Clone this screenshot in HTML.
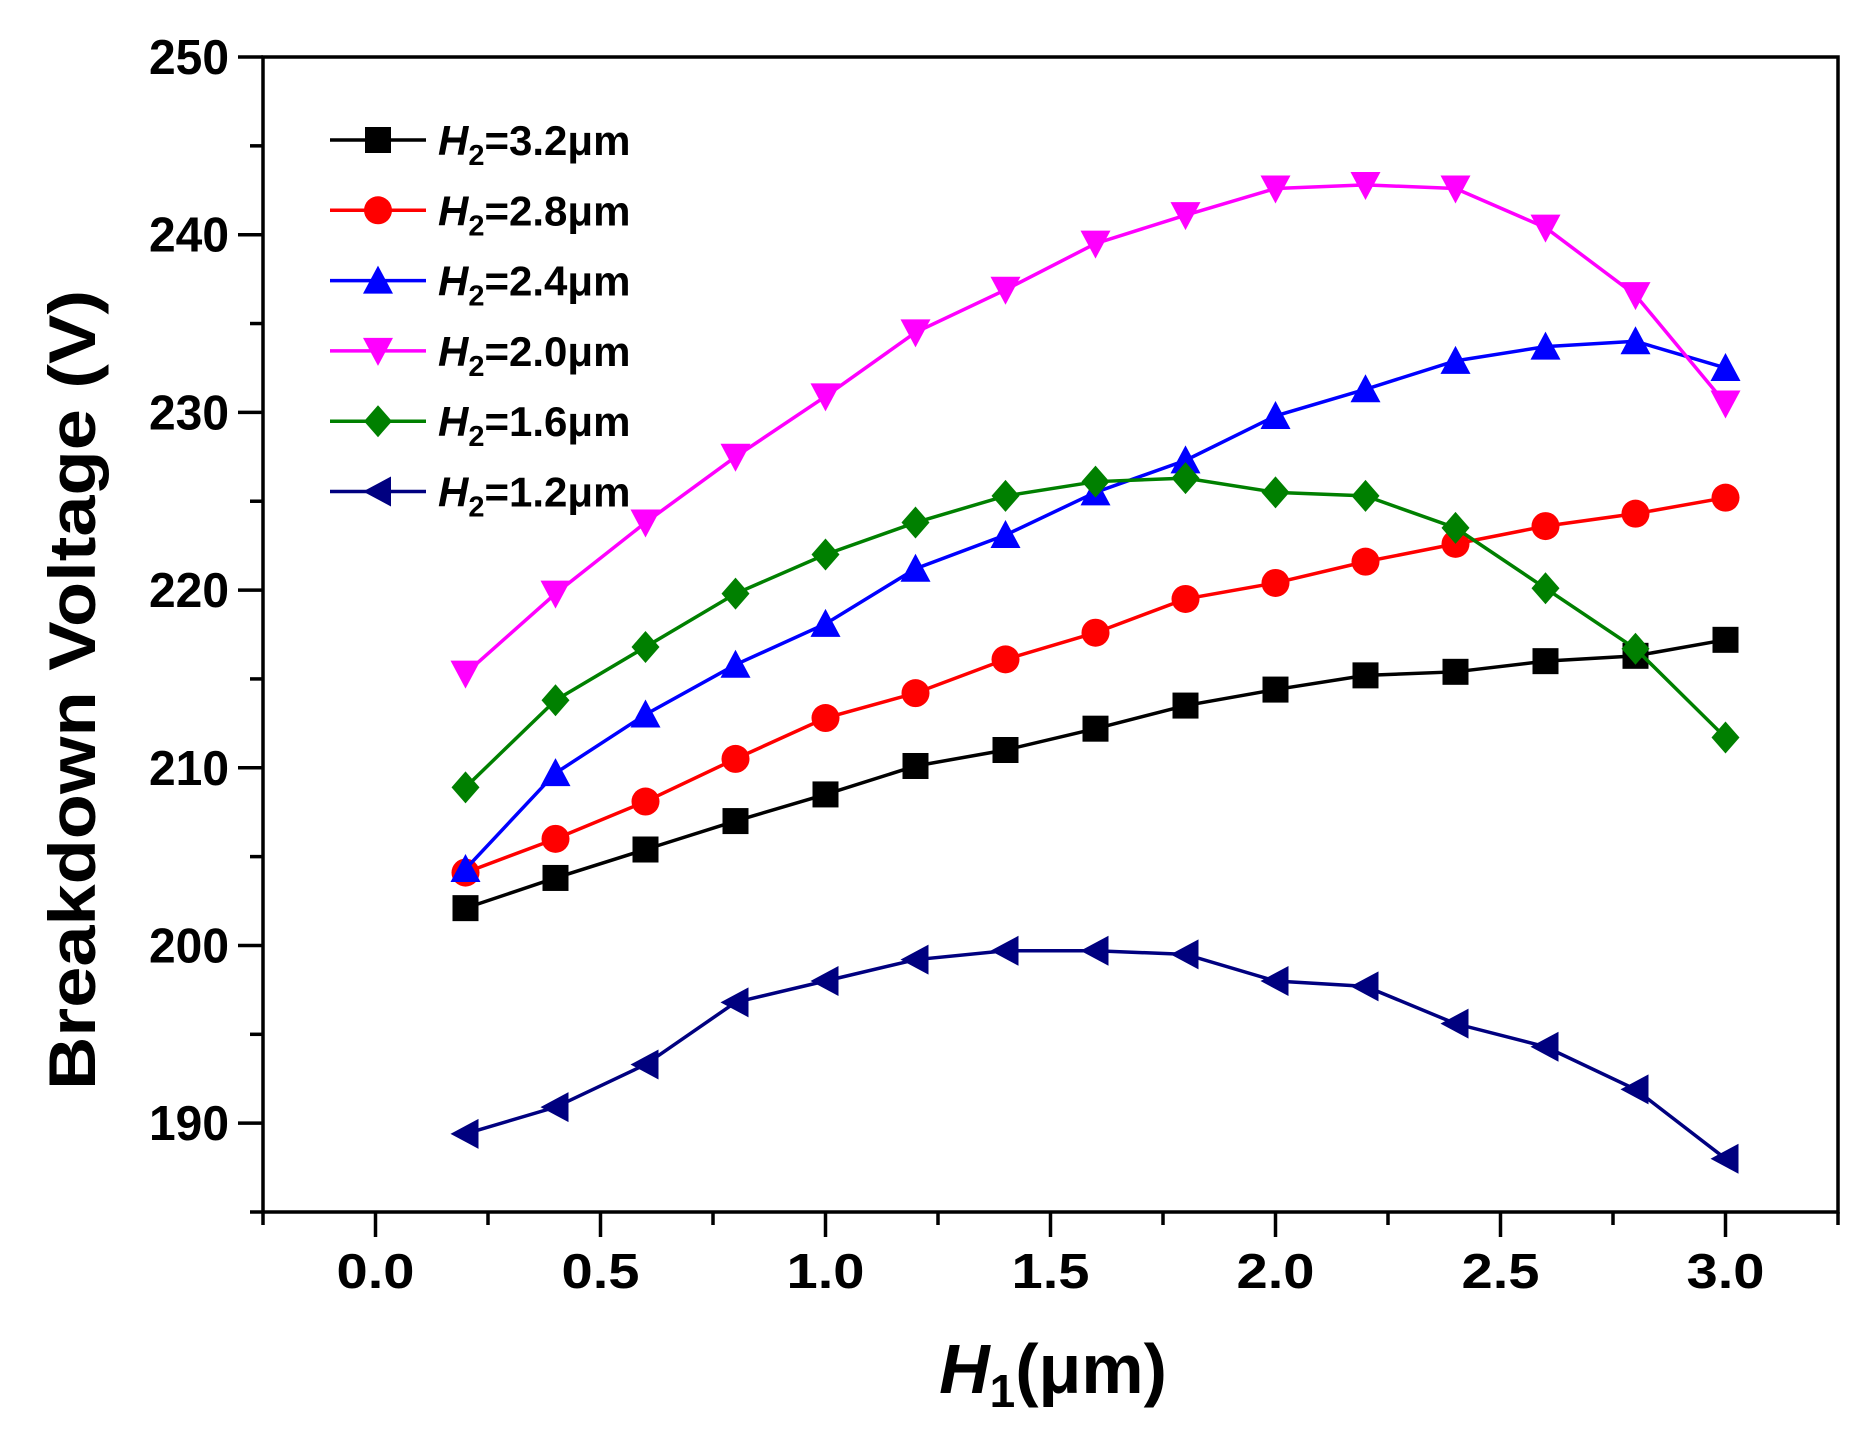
<!DOCTYPE html>
<html><head><meta charset="utf-8"><style>html,body{margin:0;padding:0;background:#fff}svg{display:block}text{font-family:"Liberation Sans",Arial,sans-serif;font-weight:bold}</style></head>
<body>
<svg id="chart" width="1872" height="1442" viewBox="0 0 1872 1442" xmlns="http://www.w3.org/2000/svg">
<g id="plot"></g>
</svg>
<script>
const xValues=[0.2,0.4,0.6,0.8,1.0,1.2,1.4,1.6,1.8,2.0,2.2,2.4,2.6,2.8,3.0];
const seriesNames=["3.2","2.8","2.4","2.0","1.6","1.2"];
const s32=[202.1,203.8,205.4,207.0,208.5,210.1,211.0,212.2,213.5,214.4,215.2,215.4,216.0,216.3,217.2];
const s28=[204.1,206.0,208.1,210.5,212.8,214.2,216.1,217.6,219.5,220.4,221.6,222.6,223.6,224.3,225.2];
const s24=[204.3,209.7,213.0,215.8,218.1,221.2,223.1,225.5,227.3,229.8,231.3,232.9,233.7,234.0,232.5];
const s20=[215.3,219.8,223.8,227.5,230.9,234.5,236.9,239.5,241.1,242.6,242.8,242.6,240.4,236.6,230.5];
const s16=[208.9,213.8,216.8,219.8,222.0,223.8,225.3,226.1,226.3,225.5,225.3,223.5,220.1,216.7,211.7];
const s12=[189.4,190.9,193.3,196.8,198.0,199.2,199.7,199.7,199.5,198.0,197.7,195.6,194.3,191.9,188.0];
const xTickLabels=["0.0","0.5","1.0","1.5","2.0","2.5","3.0"];
const yTickLabels=["190","200","210","220","230","240","250"];

const NS="http://www.w3.org/2000/svg";
const L=263,R=1838,T=57,B=1212;
const xMin=-0.25,xMax=3.25,yMin=185,yMax=250;
const X=v=>L+(v-xMin)/(xMax-xMin)*(R-L);
const Y=v=>B-(v-yMin)/(yMax-yMin)*(B-T);
const g=document.getElementById('plot');
function mk(tag,attrs,parent){const e=document.createElementNS(NS,tag);for(const k in attrs)e.setAttribute(k,attrs[k]);(parent||g).appendChild(e);return e;}

const frame=mk('rect',{x:L,y:T,width:R-L,height:B-T,fill:'none',stroke:'#000','stroke-width':3.5});



for(let v=185;v<=250;v+=5){
  const major=(v%10===0);
  const t=mk('line',{x1:L-(major?25:13),x2:L,y1:Y(v),y2:Y(v),stroke:'#000','stroke-width':3.5});
  
  
}
yTickLabels.forEach(s=>{
  const t=mk('text',{x:229,y:Y(+s)+17,'text-anchor':'end','font-size':49,textLength:80,lengthAdjust:'spacingAndGlyphs'});
  t.textContent=s;
  
  
});
for(let i=0;i<=14;i++){
  const v=-0.25+i*0.25;
  const major=(i%2===1);
  const t=mk('line',{x1:X(v),x2:X(v),y1:B,y2:B+(major?25:13),stroke:'#000','stroke-width':3.5});
  
  
}
xTickLabels.forEach(s=>{
  const t=mk('text',{x:X(+s),y:1288,'text-anchor':'middle','font-size':49,textLength:78,lengthAdjust:'spacingAndGlyphs'});
  t.textContent=s;
  
  
});
const yt=mk('text',{x:0,y:0,'text-anchor':'middle','font-size':66,transform:'translate(95,690) rotate(-90)',textLength:800,lengthAdjust:'spacingAndGlyphs'});
yt.textContent='Breakdown Voltage (V)';


const xt=mk('text',{x:1053,y:1393,'text-anchor':'middle','font-size':70});
xt.innerHTML='<tspan font-style="italic">H</tspan><tspan font-size="46" dy="14">1</tspan><tspan dy="-14">(μm)</tspan>';



const series=[s32,s28,s24,s20,s16,s12];
const colors=['#000000','#ff0000','#0000ff','#ff00ff','#008000','#000080'];
const shapes=['square','circle','up','down','diamond','left'];
function marker(shape,cx,cy,color,parent){
  const r=13;let e;
  if(shape==='square')e=mk('rect',{x:cx-r,y:cy-r,width:2*r,height:2*r,fill:color},parent);
  else if(shape==='circle')e=mk('circle',{cx:cx,cy:cy,r:r+1,fill:color},parent);
  else{
    let p;
    if(shape==='up')p=[[cx,cy-r-2],[cx+r+2,cy+r],[cx-r-2,cy+r]];
    else if(shape==='down')p=[[cx,cy+r+2],[cx+r+2,cy-r],[cx-r-2,cy-r]];
    else if(shape==='diamond')p=[[cx,cy-r-3],[cx+r+1,cy],[cx,cy+r+3],[cx-r-1,cy]];
    else p=[[cx-r-2,cy],[cx+r,cy-r-2],[cx+r,cy+r+2]];
    e=mk('polygon',{points:p.map(q=>q.join(',')).join(' '),fill:color},parent);
  }
  return e;
}
series.forEach((vals,si)=>{
  const sg=mk('g',{});
  
  
  const pl=mk('polyline',{points:vals.map((v,i)=>X(xValues[i])+','+Y(v)).join(' '),fill:'none',stroke:colors[si],'stroke-width':3.5},sg);
  
  
  vals.forEach((v,i)=>{
    const m=marker(shapes[si],X(xValues[i]),Y(v),colors[si],sg);
    
    
  });
  const ly=140+si*70.3;
  const lg=mk('g',{});
  
  
  mk('line',{x1:330,x2:426,y1:ly,y2:ly,stroke:colors[si],'stroke-width':3.5},lg);
  marker(shapes[si],378,ly,colors[si],lg);
  const tx=mk('text',{x:438,y:ly+15,'font-size':42},lg);
  tx.innerHTML='<tspan font-style="italic">H</tspan><tspan font-size="29" dy="10">2</tspan><tspan dy="-10">=' + seriesNames[si] + 'μm</tspan>';
});
</script>
</body></html>
